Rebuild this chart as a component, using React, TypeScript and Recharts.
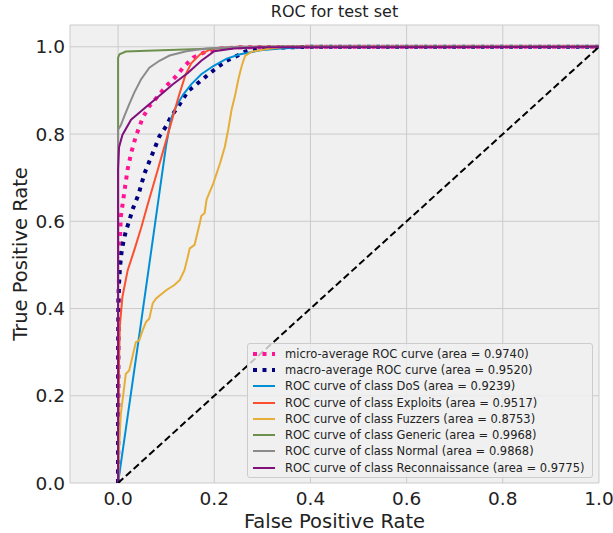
import React from 'react';
import { LineChart, Line, XAxis, YAxis, CartesianGrid } from 'recharts';

// ---- data ----
const xTicks = [0, 0.2, 0.4, 0.6, 0.8, 1.0];
const yTicks = [0, 0.2, 0.4, 0.6, 0.8, 1.0];

const microFpr = [0, 0, 0.002, 0.0056, 0.0126, 0.0196, 0.027, 0.037, 0.051, 0.065, 0.083, 0.1, 0.121, 0.138, 0.156, 0.184, 0.212, 0.25, 0.4, 1.0];
const microTpr = [0, 0.3, 0.5, 0.61, 0.664, 0.718, 0.756, 0.795, 0.837, 0.864, 0.887, 0.91, 0.933, 0.956, 0.975, 0.99, 0.996, 0.999, 1.0, 1.0];

const macroFpr = [0, 0.0007, 0.002, 0.004, 0.007, 0.0105, 0.016, 0.023, 0.03, 0.042, 0.055, 0.069, 0.086, 0.1, 0.11, 0.128, 0.145, 0.163, 0.184, 0.205, 0.226, 0.254, 0.264, 0.29, 0.4, 1.0];
const macroTpr = [0, 0.42, 0.458, 0.496, 0.527, 0.55, 0.577, 0.6, 0.627, 0.66, 0.71, 0.748, 0.795, 0.818, 0.84, 0.868, 0.898, 0.914, 0.933, 0.952, 0.968, 0.983, 0.989, 0.997, 1.0, 1.0];

const dosFpr = [0, 0.042, 0.084, 0.1, 0.11, 0.121, 0.135, 0.152, 0.173, 0.198, 0.226, 0.254, 0.296, 0.338, 0.4, 1.0];
const dosTpr = [0, 0.323, 0.65, 0.775, 0.835, 0.864, 0.89, 0.914, 0.937, 0.956, 0.973, 0.983, 0.992, 0.996, 1.0, 1.0];

const exploitsFpr = [0, 0.001, 0.002, 0.0035, 0.009, 0.02, 0.034, 0.048, 0.062, 0.083, 0.105, 0.127, 0.14, 0.152, 0.17, 0.19, 0.21, 0.25, 1.0];
const exploitsTpr = [0, 0.15, 0.28, 0.358, 0.427, 0.488, 0.535, 0.585, 0.64, 0.72, 0.805, 0.89, 0.935, 0.962, 0.982, 0.993, 0.997, 1.0, 1.0];

const fuzzersFpr = [0, 0.002, 0.0056, 0.0126, 0.016, 0.023, 0.03, 0.037, 0.044, 0.051, 0.058, 0.065, 0.072, 0.079, 0.1, 0.117, 0.128, 0.138, 0.145, 0.149, 0.159, 0.17, 0.173, 0.18, 0.184, 0.198, 0.212, 0.222, 0.229, 0.236, 0.243, 0.25, 0.257, 0.264, 0.278, 0.31, 0.35, 1.0];
const fuzzersTpr = [0, 0.08, 0.158, 0.219, 0.25, 0.258, 0.29, 0.323, 0.327, 0.35, 0.369, 0.377, 0.412, 0.423, 0.442, 0.454, 0.465, 0.488, 0.519, 0.538, 0.546, 0.596, 0.612, 0.619, 0.65, 0.687, 0.733, 0.771, 0.81, 0.856, 0.887, 0.925, 0.956, 0.979, 0.989, 0.995, 1.0, 1.0];

const genericFpr = [0, 0, 0.003, 0.016, 0.06, 0.2, 0.3, 1.0];
const genericTpr = [0, 0.975, 0.983, 0.989, 0.991, 0.996, 1.0, 1.0];

const normalFpr = [0, 0, 0.0056, 0.0126, 0.023, 0.0336, 0.0476, 0.065, 0.086, 0.107, 0.142, 0.184, 0.25, 1.0];
const normalTpr = [0, 0.81, 0.82, 0.84, 0.868, 0.895, 0.925, 0.952, 0.968, 0.98, 0.99, 0.996, 1.0, 1.0];

const reconFpr = [0, 0, 0.002, 0.009, 0.027, 0.058, 0.086, 0.114, 0.145, 0.173, 0.2, 0.24, 0.296, 1.0];
const reconTpr = [0, 0.72, 0.77, 0.798, 0.833, 0.862, 0.888, 0.914, 0.94, 0.968, 0.99, 0.996, 0.999, 1.0];

const chanceFpr = [0, 1];
const chanceTpr = [0, 1];

const classNames = ['DoS', 'Exploits', 'Fuzzers', 'Generic', 'Normal', 'Reconnaissance'];
const classAreas = ['0.9239', '0.9517', '0.8753', '0.9968', '0.9868', '0.9775'];
const microArea = '0.9740';
const macroArea = '0.9520';

// ---- styles ----
const FONT = '"DejaVu Sans", Verdana, sans-serif';
const classColors = ['#008fd5', '#fc4f30', '#e5ae38', '#6d904f', '#8b8b8b', '#810f7c'];

const toPoints = (xs: number[], ys: number[]) => xs.map((x, i) => ({ x, y: ys[i] }));

const classData = [
  toPoints(dosFpr, dosTpr),
  toPoints(exploitsFpr, exploitsTpr),
  toPoints(fuzzersFpr, fuzzersTpr),
  toPoints(genericFpr, genericTpr),
  toPoints(normalFpr, normalTpr),
  toPoints(reconFpr, reconTpr),
];

type Entry = { label: string; color: string; dash?: string; width: number };

const legendEntries: Entry[] = [
  { label: `micro-average ROC curve (area = ${microArea})`, color: '#ff1493', dash: '4 5.5', width: 4 },
  { label: `macro-average ROC curve (area = ${macroArea})`, color: '#000080', dash: '4 5.5', width: 4 },
  ...classNames.map((n, i) => ({
    label: `ROC curve of class ${n} (area = ${classAreas[i]})`,
    color: classColors[i],
    width: 2,
  })),
];

const XTitle = (props: any) => {
  const vb = props.viewBox || {};
  return (
    <text x={vb.x + vb.width / 2} y={vb.y + 45} textAnchor="middle" fontFamily={FONT} fontSize={19.5} fill="#222">
      False Positive Rate
    </text>
  );
};

const YTitle = (props: any) => {
  const vb = props.viewBox || {};
  const cx = vb.x + 20;
  const cy = vb.y + vb.height / 2;
  return (
    <text
      x={cx}
      y={cy}
      transform={`rotate(-90, ${cx}, ${cy})`}
      textAnchor="middle"
      dominantBaseline="central"
      fontFamily={FONT}
      fontSize={19.5}
      fill="#222"
    >
      True Positive Rate
    </text>
  );
};

const tickStyle = { fontFamily: FONT, fontSize: 18.5, fill: '#222' };

export default function App() {
  return (
    <div style={{ position: 'absolute', left: 0, top: 0, width: 613, height: 533, background: '#fff' }}>
      <LineChart width={613} height={533} margin={{ top: 25, right: 14, bottom: 0, left: 0 }}>
        <CartesianGrid fill="#f0f0f0" stroke="#cbcbcb" strokeWidth={1} />
        <XAxis
          type="number"
          dataKey="x"
          domain={[-0.1, 1.0]}
          ticks={xTicks}
          allowDataOverflow
          axisLine={false}
          tickLine={false}
          tickSize={0}
          tickMargin={9}
          height={50}
          tick={tickStyle}
          tickFormatter={(v: number) => v.toFixed(1)}
          label={<XTitle />}
        />
        <YAxis
          type="number"
          dataKey="y"
          domain={[0, 1.05]}
          ticks={yTicks}
          allowDataOverflow
          axisLine={false}
          tickLine={false}
          tickSize={0}
          tickMargin={5}
          width={70}
          tick={tickStyle}
          tickFormatter={(v: number) => v.toFixed(1)}
          label={<YTitle />}
        />
        <Line
          data={toPoints(microFpr, microTpr)}
          dataKey="y"
          type="linear"
          stroke="#ff1493"
          strokeWidth={4}
          strokeDasharray="4 5.5"
          dot={false}
          activeDot={false}
          isAnimationActive={false}
        />
        <Line
          data={toPoints(macroFpr, macroTpr)}
          dataKey="y"
          type="linear"
          stroke="#000080"
          strokeWidth={4}
          strokeDasharray="4 5.5"
          dot={false}
          activeDot={false}
          isAnimationActive={false}
        />
        {classData.map((d, i) => (
          <Line
            key={classNames[i]}
            data={d}
            dataKey="y"
            type="linear"
            stroke={classColors[i]}
            strokeWidth={2}
            dot={false}
            activeDot={false}
            isAnimationActive={false}
          />
        ))}
        <Line
          data={toPoints(chanceFpr, chanceTpr)}
          dataKey="y"
          type="linear"
          stroke="#000"
          strokeWidth={2}
          strokeDasharray="7 3.5"
          dot={false}
          activeDot={false}
          isAnimationActive={false}
        />
      </LineChart>
      <div
        style={{
          position: 'absolute',
          left: 70,
          top: 2,
          width: 529,
          textAlign: 'center',
          fontFamily: FONT,
          fontSize: 16,
          lineHeight: '20px',
          color: '#222',
        }}
      >
        ROC for test set
      </div>
      <div
        style={{
          position: 'absolute',
          left: 247,
          top: 343,
          width: 346,
          height: 135,
          boxSizing: 'border-box',
          background: 'rgba(240,240,240,0.8)',
          border: '1px solid #cccccc',
          borderRadius: 3,
          paddingTop: 1.5,
          fontFamily: FONT,
          fontSize: 11.5,
          color: '#222',
        }}
      >
        {legendEntries.map((e) => (
          <div key={e.label} style={{ display: 'flex', alignItems: 'center', height: 16.3, whiteSpace: 'nowrap' }}>
            <svg width={22} height={8} style={{ marginLeft: 5, flex: 'none' }}>
              <line x1={0} y1={4} x2={22} y2={4} stroke={e.color} strokeWidth={e.width} strokeDasharray={e.dash} />
            </svg>
            <span style={{ marginLeft: 10 }}>{e.label}</span>
          </div>
        ))}
      </div>
    </div>
  );
}
